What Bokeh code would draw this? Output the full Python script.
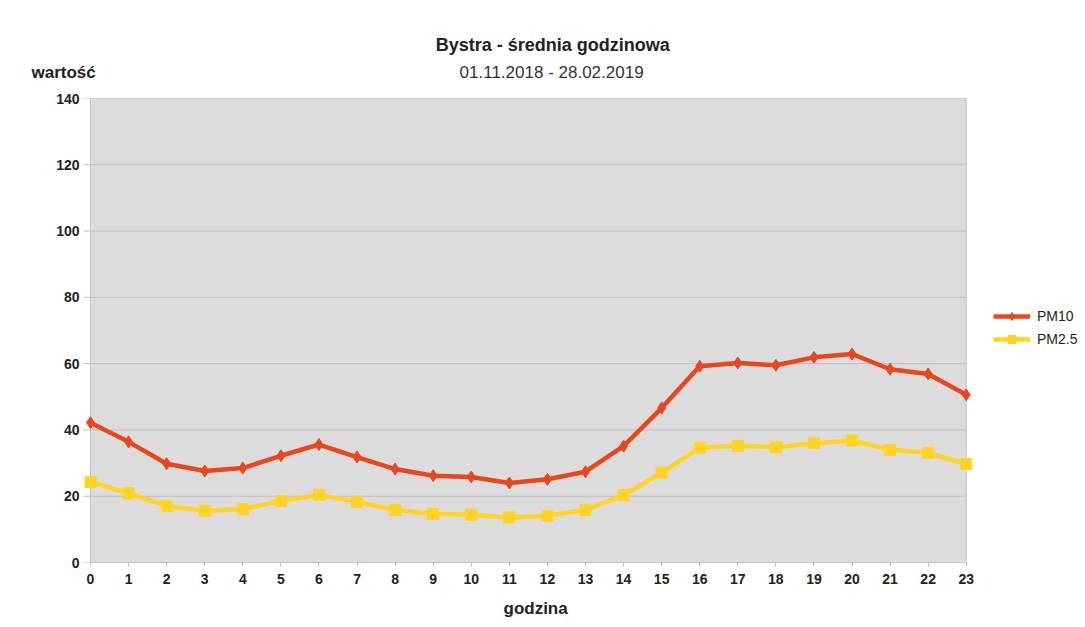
from bokeh.plotting import figure
from bokeh.models import Range1d, Label, Legend, LegendItem, FixedTicker
from bokeh.embed import file_html
from bokeh.resources import INLINE

hours = list(range(24))
pm10 = [42.2, 36.4, 29.8, 27.6, 28.5, 32.2, 35.6, 31.8, 28.2, 26.2, 25.8, 24.0,
        25.1, 27.4, 35.1, 46.6, 59.2, 60.2, 59.5, 61.9, 62.9, 58.3, 56.9, 50.6]
pm25 = [24.3, 20.9, 17.0, 15.6, 16.1, 18.6, 20.4, 18.3, 15.9, 14.7, 14.4, 13.6,
        14.1, 15.9, 20.3, 27.1, 34.6, 35.2, 34.8, 36.0, 36.8, 34.0, 33.1, 29.7]
y_ticks = [0, 20, 40, 60, 80, 100, 120, 140]
series_names = ["PM10", "PM2.5"]

title_text = "Bystra - średnia godzinowa"
subtitle_text = "01.11.2018 - 28.02.2019"
y_label = "wartość"
x_label = "godzina"

C10 = "#e8461c"
C25 = "#ffd323"
FONT = "Liberation Sans"
TXT = "#222222"
GRID = "#bdbdbd"
EDGE = "#c4c4c4"

# x range extends past the hours so that end markers and the legend lie inside the frame
p = figure(width=1085, height=624, output_backend="svg", toolbar_location=None,
           x_range=Range1d(-0.263, 26.08), y_range=Range1d(0, 140),
           min_border_left=80, min_border_right=2, min_border_top=98,
           min_border_bottom=62)
p.title.text = ""
p.title.visible = False
p.background_fill_color = "white"
p.border_fill_color = "white"
p.outline_line_color = None
p.xgrid.visible = False
p.ygrid.visible = False

x0, x1 = hours[0], hours[-1]
# plot area, horizontal grid lines (with short tick stubs on the left)
p.quad(left=[x0], right=[x1], bottom=[y_ticks[0]], top=[y_ticks[-1]],
       fill_color="#dcdcdc", line_color=EDGE, line_width=1)
p.segment(x0=[x0 - 0.19] * len(y_ticks), x1=[x1] * len(y_ticks), y0=y_ticks, y1=y_ticks,
          line_color=GRID, line_width=1)

p.xaxis.ticker = FixedTicker(ticks=hours)
p.xaxis.bounds = (x0, x1)
p.yaxis.ticker = FixedTicker(ticks=y_ticks)
for ax in (p.xaxis, p.yaxis):
    ax.axis_line_color = EDGE
    ax.major_tick_line_color = EDGE
    ax.major_tick_in = 0
    ax.major_tick_out = 4
    ax.minor_tick_line_color = None
    ax.major_label_text_font = FONT
    ax.major_label_text_font_style = "bold"
    ax.major_label_text_font_size = "14px"
    ax.major_label_text_color = TXT
p.yaxis.axis_line_color = None
p.yaxis.major_tick_line_color = None
p.yaxis.major_tick_out = 0
p.yaxis.major_label_standoff = 1
p.xaxis.major_label_standoff = 7

r10l = p.line(hours, pm10, line_color=C10, line_width=4.5)
r10m = p.scatter(hours, pm10, marker="diamond", size=12, fill_color=C10, line_color=C10)
r25l = p.line(hours, pm25, line_color=C25, line_width=4.5)
r25m = p.scatter(hours, pm25, marker="square", size=11, fill_color=C25, line_color=C25)

legend = Legend(items=[LegendItem(label=series_names[0], renderers=[r10l, r10m]),
                       LegendItem(label=series_names[1], renderers=[r25l, r25m])],
                location=(913, 213), background_fill_alpha=0, border_line_color=None,
                label_text_font=FONT, label_text_font_size="14px",
                label_text_color=TXT, glyph_width=37, glyph_height=20,
                label_height=20, spacing=3, padding=0, margin=0, label_standoff=7)
p.add_layout(legend, "center")

# texts outside the frame (side panels are not clipped)
p.add_layout(Label(x=12.14, y=156.0, text=title_text, text_align="center",
                   text_baseline="middle", text_font=FONT, text_font_style="bold",
                   text_font_size="18px", text_color=TXT), "above")
p.add_layout(Label(x=12.11, y=147.9, text=subtitle_text, text_align="center",
                   text_baseline="middle", text_font=FONT,
                   text_font_size="17px", text_color="#333333"), "above")
p.add_layout(Label(x=-1.55, y=147.9, text=y_label, text_align="left",
                   text_baseline="middle", text_font=FONT, text_font_style="bold",
                   text_font_size="17px", text_color=TXT), "above")
p.add_layout(Label(x=11.69, y=-13.9, text=x_label, text_align="center",
                   text_baseline="middle", text_font=FONT, text_font_style="bold",
                   text_font_size="17px", text_color=TXT), "below")

open("out.html", "w").write(file_html(p, INLINE))
